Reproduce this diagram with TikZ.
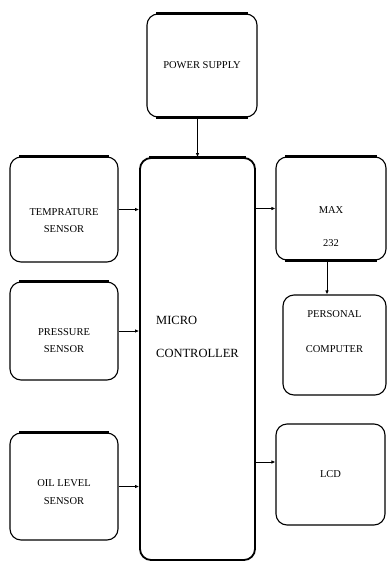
\documentclass[tikz,border=0pt]{standalone}
\usepackage{fontspec}
\setmainfont{Liberation Serif}
\usetikzlibrary{arrows.meta, positioning, calc}

\begin{document}
\begin{tikzpicture}[x=1pt, y=-1pt,
    block/.style={draw, line width=1.1pt, rounded corners=11pt, minimum width=#1},
    txt/.style={font=\fontsize{10.5}{#1}\selectfont, align=center},
    link/.style={-{Latex[length=4pt, width=3.5pt]}, line width=0.9pt},
    heavy/.style={line width=3pt}
]
    \useasboundingbox (0,0) rectangle (387,563);

    \node[block=110pt, minimum height=103pt] (power) at (202,65.5) {};
    \node[block=108pt, minimum height=105pt] (temp) at (64,209.5) {};
    \node[block=108pt, minimum height=98pt] (pressure) at (64,331) {};
    \node[block=108pt, minimum height=107pt] (oil) at (64,486.5) {};
    \node[block=115pt, minimum height=402pt, line width=1.8pt] (micro) at (197.5,359) {};
    \node[block=110pt, minimum height=103pt] (maxic) at (331,208.5) {};
    \node[block=103pt, minimum height=100pt] (pc) at (334.5,345) {};
    \node[block=109pt, minimum height=101pt] (lcd) at (330.5,474.5) {};

    \node[txt=12] at (power) {POWER SUPPLY};
    \node[txt=17] at ([yshift=-11pt]temp.center) {TEMPRATURE\\SENSOR};
    \node[txt=17] at ([yshift=-10pt]pressure.center) {PRESSURE\\SENSOR};
    \node[txt=18] at ([yshift=-6pt]oil.center) {OIL LEVEL\\SENSOR};
    \node[font=\fontsize{12.5}{33}\selectfont, align=left] at ([yshift=22pt]micro.center) {MICRO\\CONTROLLER};
    \node[txt=33] at ([yshift=-18pt]maxic.center) {MAX\\232};
    \node[txt=35] at ([yshift=13pt]pc.center) {PERSONAL\\COMPUTER};
    \node[txt=12] at (lcd) {LCD};

    \foreach \n in {power,temp,pressure,oil,micro,maxic}
        \draw[heavy] ([xshift=10pt]\n.north west) -- ([xshift=-10pt]\n.north east);
    \foreach \n in {power,maxic}
        \draw[heavy] ([xshift=10pt]\n.south west) -- ([xshift=-10pt]\n.south east);

    \draw[link] (micro.north |- power.south) -- (micro.north);
    \draw[link] (temp) -- (temp -| micro.west);
    \draw[link] (pressure) -- (pressure -| micro.west);
    \draw[link] (oil) -- (oil -| micro.west);
    \draw[link] (maxic -| micro.east) -- (maxic.west);
    \draw[link] ([xshift=-4pt]maxic.south) -- ([xshift=-4pt]maxic.south |- pc.north);
    \draw[link] ([yshift=12.5pt]lcd.west -| micro.east) -- ([yshift=12.5pt]lcd.west);
\end{tikzpicture}
\end{document}
